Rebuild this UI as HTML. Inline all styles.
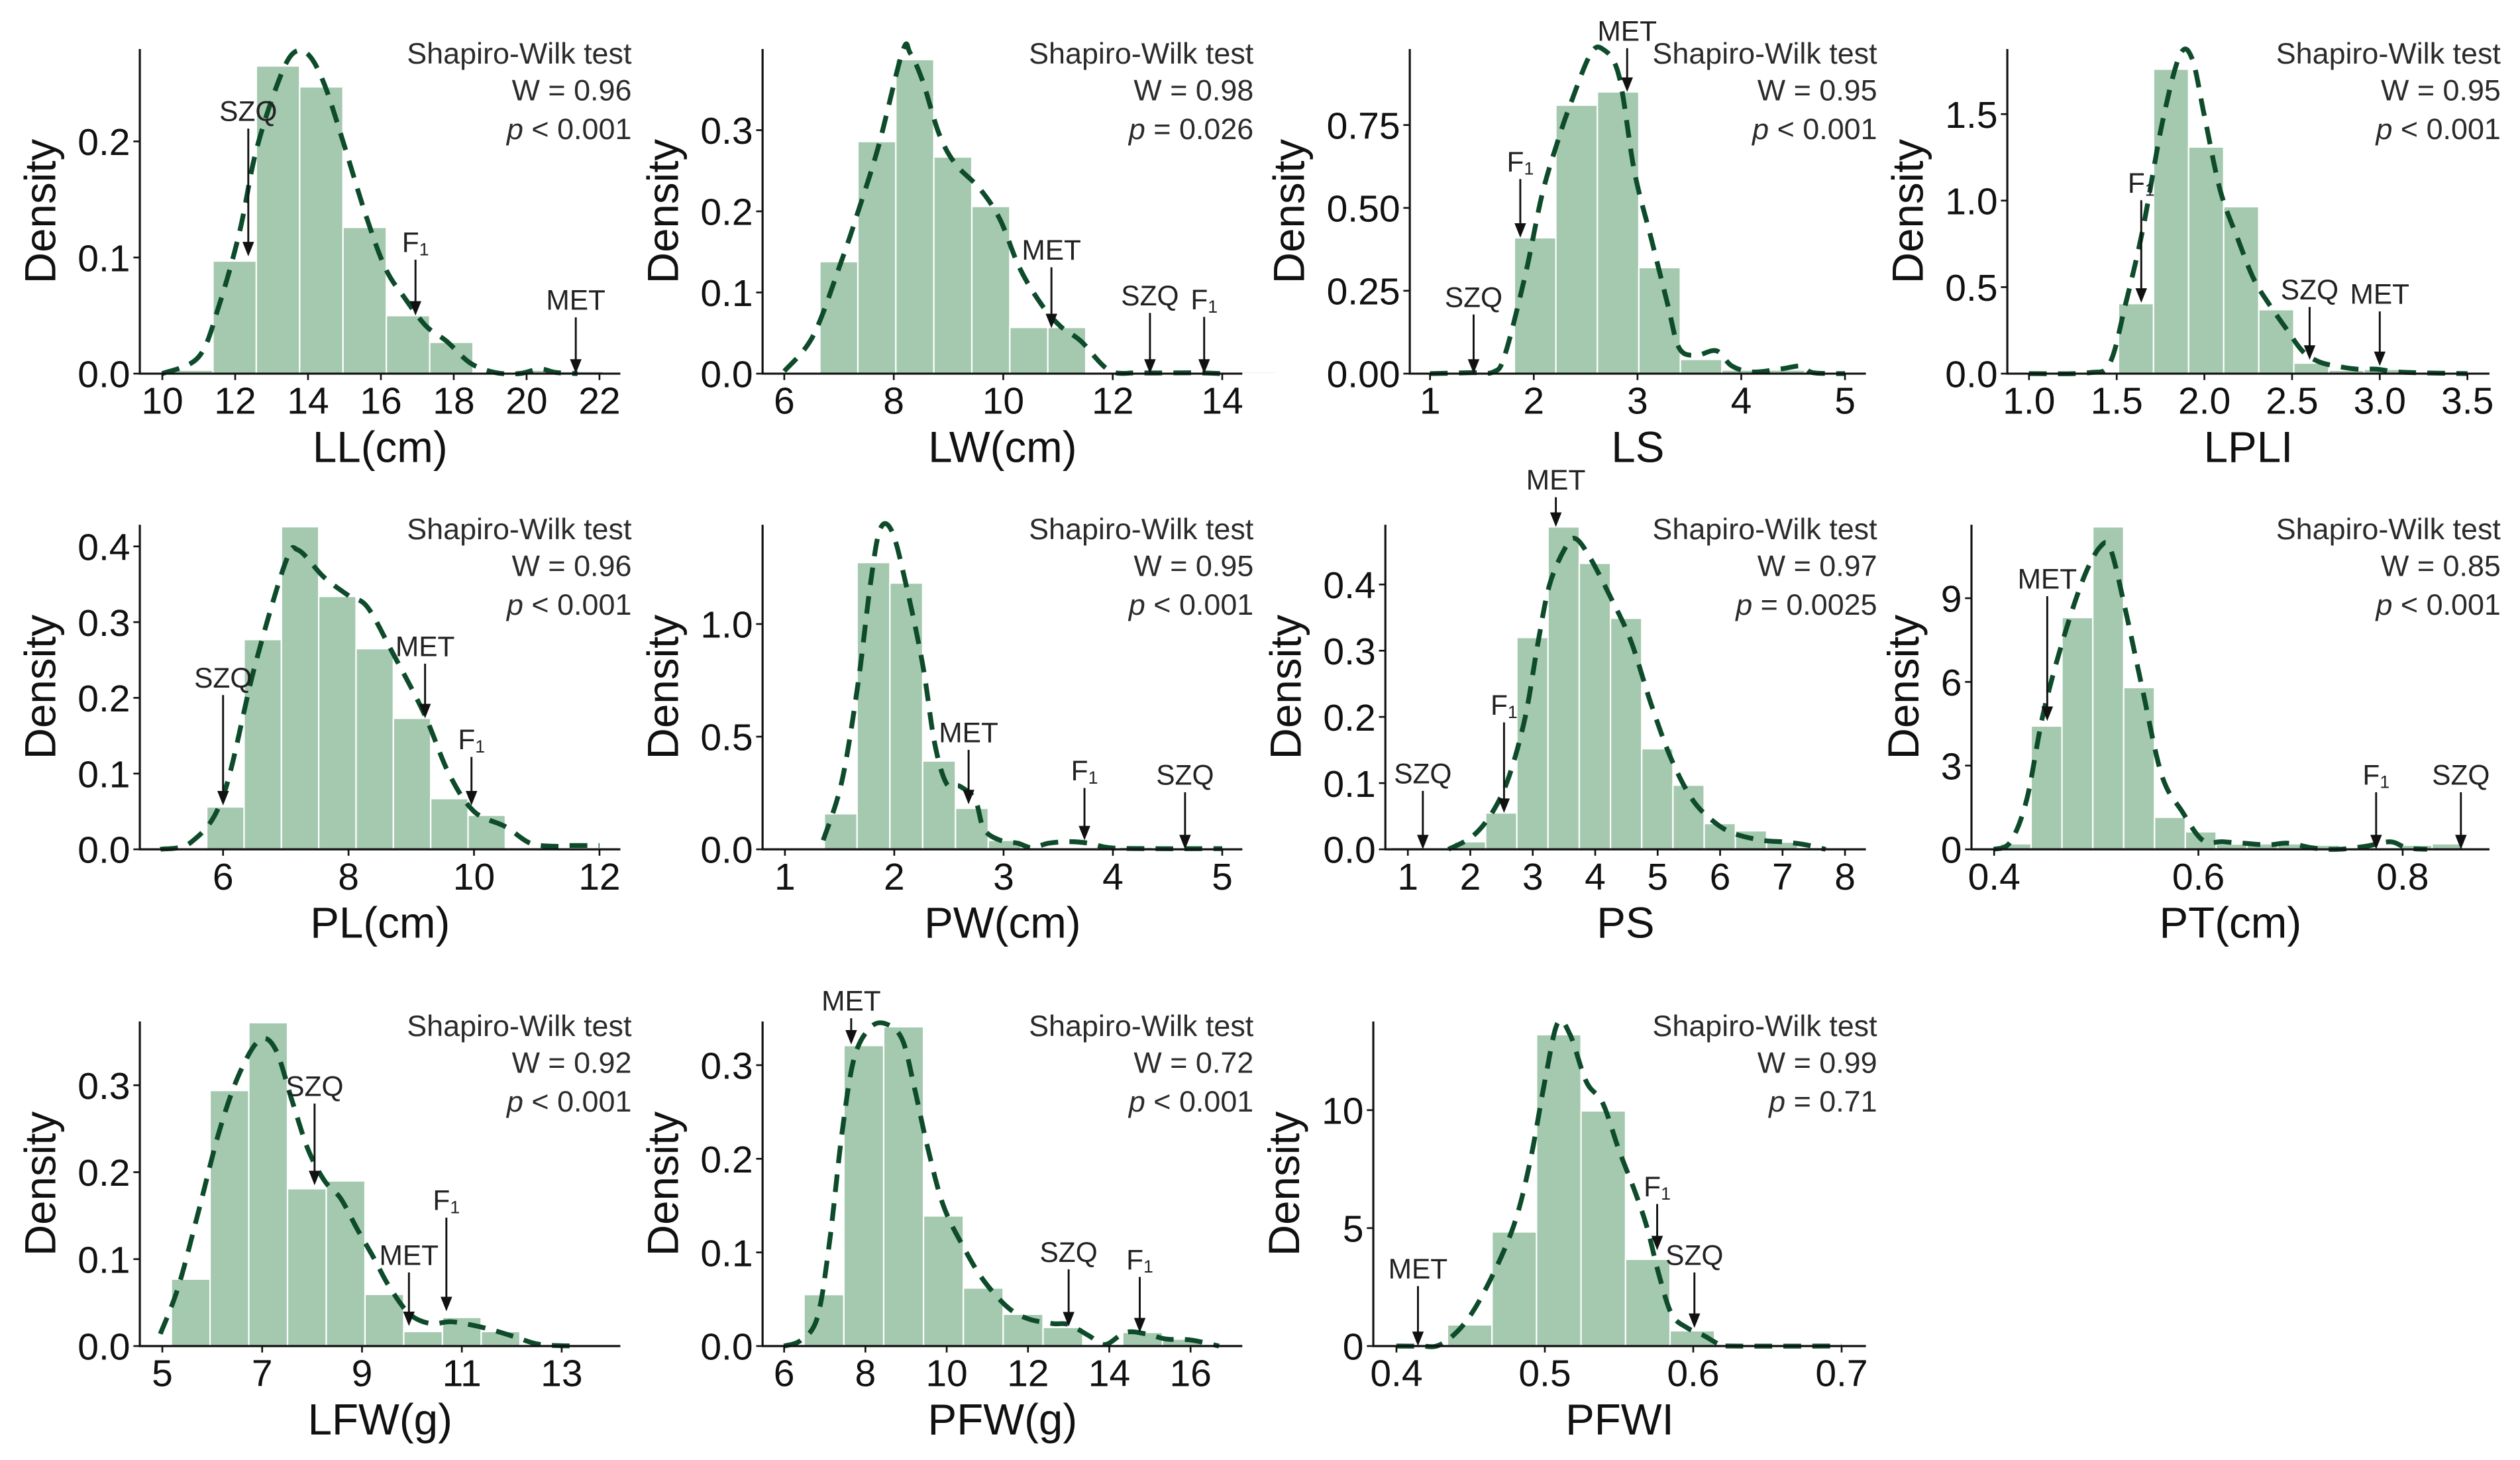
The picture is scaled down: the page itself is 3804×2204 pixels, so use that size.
<!DOCTYPE html>
<html><head><meta charset="utf-8"><title>Density histograms</title>
<style>
html,body{margin:0;padding:0;background:#fff;}
svg{display:block;font-family:"Liberation Sans",Arial,sans-serif;}
</style></head>
<body>
<svg id="fig" xmlns="http://www.w3.org/2000/svg" width="3804" height="2204" viewBox="0 0 1568 908.5" preserveAspectRatio="none">
<rect x="0" y="0" width="1568" height="908.5" fill="#fff"/>
</svg>
<script>
// ===== DATA =====
// LL
const LL_binStart=10.2; const LL_binWidth=1.19;
const LL_heights=[0.003,0.097,0.265,0.247,0.126,0.05,0.027,0,0.003,0.002];
const LL_curveX=[10,11.0,11.56,12.12,12.56,13.12,13.56,14.0,14.45,15.0,15.57,16.12,16.68,17.24,17.8,18.46,19.13,19.8,20.36,20.8,21.4];
const LL_curveY=[0,0.0145,0.059,0.122,0.19,0.246,0.275,0.275,0.249,0.196,0.138,0.091,0.064,0.041,0.028,0.009,0.001,0,0.004,0.001,0];
const LL_xTicks=[10,12,14,16,18,20,22];
const LL_yTicks=[0,0.1,0.2]; const LL_yLabels=["0.0","0.1","0.2"];
const LL_markNames=["SZQ","F1","MET"]; const LL_markX=[12.36,16.95,21.35]; const LL_markTip=[0.101,0.05,0];
const LL_stats=["W = 0.96","<","0.001"];
// LW
const LW_binStart=6.65; const LW_binWidth=0.694;
const LW_heights=[0.138,0.286,0.387,0.267,0.206,0.057,0.057,0,0,0.002,0,0.002];
const LW_curveX=[6.0,6.53,7.05,7.35,7.72,8.16,8.3,8.53,8.83,9.13,9.57,9.94,10.3,10.7,11.05,11.42,11.94,12.5,13.5,14];
const LW_curveY=[0.003,0.047,0.14,0.2,0.28,0.397,0.395,0.36,0.295,0.258,0.228,0.19,0.13,0.085,0.058,0.04,0.004,0.001,0.001,0];
const LW_xTicks=[6,8,10,12,14];
const LW_yTicks=[0,0.1,0.2,0.3]; const LW_yLabels=["0.0","0.1","0.2","0.3"];
const LW_markNames=["MET","SZQ","F1"]; const LW_markX=[10.88,12.68,13.67]; const LW_markTip=[0.056,0,0];
const LW_stats=["W = 0.98","=","0.026"];
// LS
const LS_binStart=1.013; const LS_binWidth=0.4;
const LS_heights=[0.003,0.004,0.41,0.81,0.85,0.32,0.043,0.011,0.011,0.003];
const LS_curveX=[1,1.41,1.61,1.72,1.92,2.08,2.23,2.35,2.54,2.66,2.82,2.97,3.13,3.29,3.4,3.56,3.76,3.91,4.11,4.38,4.58,4.69,5];
const LS_curveY=[0,0.003,0.005,0.055,0.3,0.54,0.70,0.81,0.96,0.98,0.90,0.61,0.41,0.21,0.078,0.055,0.069,0.023,0.005,0.014,0.023,0.003,0];
const LS_xTicks=[1,2,3,4,5];
const LS_yTicks=[0,0.25,0.5,0.75]; const LS_yLabels=["0.00","0.25","0.50","0.75"];
const LS_markNames=["MET","F1","SZQ"]; const LS_markX=[2.9,1.87,1.42]; const LS_markTip=[0.85,0.41,0];
const LS_stats=["W = 0.95","<","0.001"];
// LPLI
const LPLI_binStart=0.91; const LPLI_binWidth=0.2;
const LPLI_heights=[0.01,0.005,0,0.405,1.76,1.31,0.965,0.37,0.061,0.02,0.025,0.003,0.005];
const LPLI_curveX=[1.0,1.34,1.46,1.55,1.65,1.76,1.86,1.93,2.0,2.09,2.19,2.28,2.37,2.47,2.56,2.65,2.75,2.87,2.98,3.08,3.22,3.5];
const LPLI_curveY=[0,0.005,0.06,0.40,0.84,1.45,1.84,1.82,1.49,1.06,0.78,0.55,0.40,0.255,0.13,0.07,0.044,0.026,0.026,0.012,0.005,0];
const LPLI_xTicks=[1.0,1.5,2.0,2.5,3.0,3.5];
const LPLI_yTicks=[0,0.5,1.0,1.5]; const LPLI_yLabels=["0.0","0.5","1.0","1.5"];
const LPLI_markNames=["F1","SZQ","MET"]; const LPLI_markX=[1.64,2.6,3.0]; const LPLI_markTip=[0.41,0.08,0.044];
const LPLI_stats=["W = 0.95","<","0.001"];
// PL
const PL_binStart=5.74; const PL_binWidth=0.595;
const PL_heights=[0.056,0.277,0.426,0.334,0.265,0.173,0.067,0.045];
const PL_curveX=[5.0,5.5,6.0,6.5,7.0,7.2,7.6,8.0,8.3,8.7,9.2,9.6,10.0,10.5,10.9,11.3,11.5,12.0];
const PL_curveY=[0,0.01,0.07,0.24,0.38,0.395,0.36,0.335,0.32,0.26,0.18,0.1,0.05,0.03,0.008,0.004,0.005,0.005];
const PL_xTicks=[6,8,10,12];
const PL_yTicks=[0,0.1,0.2,0.3,0.4]; const PL_yLabels=["0.0","0.1","0.2","0.3","0.4"];
const PL_markNames=["SZQ","MET","F1"]; const PL_markX=[6.0,9.22,9.96]; const PL_markTip=[0.058,0.173,0.058];
const PL_stats=["W = 0.96","<","0.001"];
// PW
const PW_binStart=1.06; const PW_binWidth=0.3;
const PW_heights=[0.005,0.158,1.273,1.182,0.392,0.182,0.04,0.005,0.005,0.008,0.01,0.004,0.003,0.002,0.003];
const PW_curveX=[1.35,1.52,1.67,1.78,1.87,1.98,2.11,2.26,2.37,2.48,2.6,2.74,2.82,2.97,3.13,3.26,3.41,3.6,3.78,3.97,4.34,5.0];
const PW_curveY=[0.04,0.3,0.74,1.17,1.42,1.41,1.17,0.82,0.47,0.29,0.28,0.22,0.09,0.04,0.027,0.007,0.027,0.034,0.027,0.007,0.003,0.003];
const PW_xTicks=[1,2,3,4,5];
const PW_yTicks=[0,0.5,1.0]; const PW_yLabels=["0.0","0.5","1.0"];
const PW_markNames=["MET","F1","SZQ"]; const PW_markX=[2.68,3.74,4.66]; const PW_markTip=[0.2,0.04,0];
const PW_stats=["W = 0.95","<","0.001"];
// PS
const PS_binStart=0.745; const PS_binWidth=0.5;
const PS_heights=[0.003,0,0.0115,0.055,0.32,0.487,0.432,0.349,0.152,0.097,0.039,0.028,0.011,0.003];
const PS_curveX=[1.65,2.04,2.36,2.62,2.88,3.08,3.27,3.53,3.69,3.92,4.25,4.57,4.9,5.22,5.55,5.87,6.19,6.65,7.04,7.36,7.69];
const PS_curveY=[0,0.02,0.057,0.11,0.2,0.31,0.4,0.457,0.469,0.44,0.38,0.315,0.218,0.136,0.076,0.044,0.025,0.014,0.011,0.007,0];
const PS_xTicks=[1,2,3,4,5,6,7,8];
const PS_yTicks=[0,0.1,0.2,0.3,0.4]; const PS_yLabels=["0.0","0.1","0.2","0.3","0.4"];
const PS_markNames=["MET","F1","SZQ"]; const PS_markX=[3.37,2.54,1.24]; const PS_markTip=[0.487,0.055,0];
const PS_stats=["W = 0.97","=","0.0025"];
// PT
const PT_binStart=0.406; const PT_binWidth=0.0302;
const PT_heights=[0.2,4.42,8.31,11.56,5.8,1.15,0.63,0.19,0.2,0.2,0.15,0.05,0.05,0.15,0.2,0.05,0.05];
const PT_curveX=[0.4,0.416,0.432,0.448,0.468,0.488,0.504,0.514,0.528,0.544,0.564,0.584,0.604,0.624,0.644,0.668,0.688,0.712,0.736,0.764,0.788,0.804,0.824];
const PT_curveY=[0,0.27,1.8,4.85,7.58,9.76,10.85,10.75,8.67,5.95,2.67,1.36,0.33,0.27,0.22,0.16,0.22,0.05,0,0.11,0.27,0.05,0];
const PT_xTicks=[0.4,0.6,0.8];
const PT_yTicks=[0,3,6,9]; const PT_yLabels=["0","3","6","9"];
const PT_markNames=["MET","F1","SZQ"]; const PT_markX=[0.452,0.774,0.857]; const PT_markTip=[4.6,0,0];
const PT_stats=["W = 0.85","<","0.001"];
// LFW
const LFW_binStart=5.18; const LFW_binWidth=0.776;
const LFW_heights=[0.077,0.294,0.372,0.181,0.19,0.0595,0.0168,0.033,0.0168,0,0.001];
const LFW_curveX=[4.96,5.32,5.73,6.14,6.54,6.95,7.27,7.6,7.92,8.25,8.57,8.9,9.22,9.55,9.95,10.36,10.77,11.17,11.58,12.07,12.55,13.3];
const LFW_curveY=[0.014,0.068,0.156,0.247,0.313,0.352,0.341,0.282,0.226,0.19,0.17,0.135,0.103,0.068,0.037,0.026,0.028,0.0245,0.019,0.0105,0.002,0];
const LFW_xTicks=[5,7,9,11,13];
const LFW_yTicks=[0,0.1,0.2,0.3]; const LFW_yLabels=["0.0","0.1","0.2","0.3"];
const LFW_markNames=["SZQ","MET","F1"]; const LFW_markX=[8.05,9.94,10.69]; const LFW_markTip=[0.185,0.023,0.04];
const LFW_stats=["W = 0.92","<","0.001"];
// PFW
const PFW_binStart=6.49; const PFW_binWidth=0.98;
const PFW_heights=[0.055,0.321,0.341,0.139,0.062,0.034,0.02,0,0.0146,0.0075,0.002];
const PFW_curveX=[6,6.42,6.82,7.12,7.42,7.72,8.12,8.51,8.91,9.21,9.51,9.91,10.41,10.91,11.51,12.01,12.61,13.0,13.5,13.9,14.4,14.9,15.4,16,16.7];
const PFW_curveY=[0,0.0065,0.031,0.112,0.226,0.307,0.34,0.344,0.327,0.275,0.216,0.151,0.106,0.07,0.041,0.029,0.024,0.023,0.011,0.0016,0.0146,0.013,0.0075,0.0065,0];
const PFW_xTicks=[6,8,10,12,14,16];
const PFW_yTicks=[0,0.1,0.2,0.3]; const PFW_yLabels=["0.0","0.1","0.2","0.3"];
const PFW_markNames=["MET","SZQ","F1"]; const PFW_markX=[7.65,13.0,14.75]; const PFW_markTip=[0.322,0.021,0.0146];
const PFW_stats=["W = 0.72","<","0.001"];
// PFWI
const PFWI_binStart=0.4044; const PFWI_binWidth=0.03;
const PFWI_heights=[0.03,0.9,4.84,13.2,9.97,3.68,0.65];
const PFWI_curveX=[0.4,0.416,0.4295,0.446,0.462,0.479,0.49,0.5005,0.5087,0.517,0.528,0.539,0.55,0.561,0.569,0.577,0.5855,0.596,0.607,0.618,0.626,0.7];
const PFWI_curveY=[0,0,0.06,0.97,2.65,5.1,7.8,11.4,13.7,13.2,11.2,10.3,8.3,6.5,5.0,3.0,1.35,0.77,0.45,0.06,0,0];
const PFWI_xTicks=[0.4,0.5,0.6,0.7];
const PFWI_yTicks=[0,5,10]; const PFWI_yLabels=["0","5","10"];
const PFWI_markNames=["MET","F1","SZQ"]; const PFWI_markX=[0.4145,0.5757,0.6008]; const PFWI_markTip=[0,4.06,0.77];
const PFWI_stats=["W = 0.99","=","0.71"];

// ===== LAYOUT (pixel geometry, not data) =====
const rowsY=[232.5,528.5,837.6];
const panels=[
 {id:"LL",title:"LL(cm)",row:0,ax:87,xr:386,xv:[10,22],xp:[101,373],topV:0.2,topOff:-144.5,lab:[-163.5,-81.9,-46],
  bs:LL_binStart,bw:LL_binWidth,h:LL_heights,cx:LL_curveX,cy:LL_curveY,xt:LL_xTicks,yt:LL_yTicks,yl:LL_yLabels,mn:LL_markNames,mx:LL_markX,mt:LL_markTip,st:LL_stats},
 {id:"LW",title:"LW(cm)",row:0,ax:474.5,xr:773,xv:[6,14],xp:[488,760.5],topV:0.3,topOff:-151.5,lab:[-77.2,-48.8,-46.3],
  bs:LW_binStart,bw:LW_binWidth,h:LW_heights,cx:LW_curveX,cy:LW_curveY,xt:LW_xTicks,yt:LW_yTicks,yl:LW_yLabels,mn:LW_markNames,mx:LW_markX,mt:LW_markTip,st:LW_stats},
 {id:"LS",title:"LS",row:0,ax:877.2,xr:1161,xv:[1,5],xp:[889.8,1148],topV:0.75,topOff:-154.7,lab:[-213.5,-132.1,-47.8],
  bs:LS_binStart,bw:LS_binWidth,h:LS_heights,cx:LS_curveX,cy:LS_curveY,xt:LS_xTicks,yt:LS_yTicks,yl:LS_yLabels,mn:LS_markNames,mx:LS_markX,mt:LS_markTip,st:LS_stats},
 {id:"LPLI",title:"LPLI",row:0,ax:1249,xr:1549,xv:[1,3.5],xp:[1262.5,1535.3],topV:1.5,topOff:-161.5,lab:[-118.9,-52.5,-49.7],
  bs:LPLI_binStart,bw:LPLI_binWidth,h:LPLI_heights,cx:LPLI_curveX,cy:LPLI_curveY,xt:LPLI_xTicks,yt:LPLI_yTicks,yl:LPLI_yLabels,mn:LPLI_markNames,mx:LPLI_markX,mt:LPLI_markTip,st:LPLI_stats,dec:1},
 {id:"PL",title:"PL(cm)",row:1,ax:87,xr:386,xv:[6,12],xp:[138.8,373],topV:0.4,topOff:-188.5,lab:[-107,-126.5,-68.5],
  bs:PL_binStart,bw:PL_binWidth,h:PL_heights,cx:PL_curveX,cy:PL_curveY,xt:PL_xTicks,yt:PL_yTicks,yl:PL_yLabels,mn:PL_markNames,mx:PL_markX,mt:PL_markTip,st:PL_stats},
 {id:"PW",title:"PW(cm)",row:1,ax:474.5,xr:773,xv:[1,5],xp:[488.4,760.5],topV:1.0,topOff:-140.2,lab:[-72.9,-49.2,-46.5],
  bs:PW_binStart,bw:PW_binWidth,h:PW_heights,cx:PW_curveX,cy:PW_curveY,xt:PW_xTicks,yt:PW_yTicks,yl:PW_yLabels,mn:PW_markNames,mx:PW_markX,mt:PW_markTip,st:PW_stats},
 {id:"PS",title:"PS",row:1,ax:862,xr:1161,xv:[1,8],xp:[876,1148],topV:0.4,topOff:-164.8,lab:[-230.1,-90,-47.4],
  bs:PS_binStart,bw:PS_binWidth,h:PS_heights,cx:PS_curveX,cy:PS_curveY,xt:PS_xTicks,yt:PS_yTicks,yl:PS_yLabels,mn:PS_markNames,mx:PS_markX,mt:PS_markTip,st:PS_stats},
 {id:"PT",title:"PT(cm)",row:1,ax:1226.7,xr:1549,xv:[0.4,0.8],xp:[1240.8,1495],topV:9,topOff:-156.25,lab:[-168.5,-46.5,-46.5],
  bs:PT_binStart,bw:PT_binWidth,h:PT_heights,cx:PT_curveX,cy:PT_curveY,xt:PT_xTicks,yt:PT_yTicks,yl:PT_yLabels,mn:PT_markNames,mx:PT_markX,mt:PT_markTip,st:PT_stats,dec:1},
 {id:"LFW",title:"LFW(g)",row:2,ax:87,xr:386,xv:[5,13],xp:[101,349.5],topV:0.3,topOff:-162.3,lab:[-161.9,-56.8,-90.9],
  bs:LFW_binStart,bw:LFW_binWidth,h:LFW_heights,cx:LFW_curveX,cy:LFW_curveY,xt:LFW_xTicks,yt:LFW_yTicks,yl:LFW_yLabels,mn:LFW_markNames,mx:LFW_markX,mt:LFW_markTip,st:LFW_stats},
 {id:"PFW",title:"PFW(g)",row:2,ax:474.5,xr:773,xv:[6,16],xp:[487.9,740.8],topV:0.3,topOff:-174.8,lab:[-215,-58.7,-54],
  bs:PFW_binStart,bw:PFW_binWidth,h:PFW_heights,cx:PFW_curveX,cy:PFW_curveY,xt:PFW_xTicks,yt:PFW_yTicks,yl:PFW_yLabels,mn:PFW_markNames,mx:PFW_markX,mt:PFW_markTip,st:PFW_stats},
 {id:"PFWI",title:"PFWI",row:2,ax:854.5,xr:1161,xv:[0.4,0.7],xp:[868.9,1145.9],topV:10,topOff:-146.8,lab:[-48.3,-99.4,-56.8],
  bs:PFWI_binStart,bw:PFWI_binWidth,h:PFWI_heights,cx:PFWI_curveX,cy:PFWI_curveY,xt:PFWI_xTicks,yt:PFWI_yTicks,yl:PFWI_yLabels,mn:PFWI_markNames,mx:PFWI_markX,mt:PFWI_markTip,st:PFWI_stats,dec:1}
];

const NS="http://www.w3.org/2000/svg";
const svg=document.getElementById("fig");
function mk(tag,attrs,parent){const e=document.createElementNS(NS,tag);for(const k in attrs)e.setAttribute(k,attrs[k]);parent.appendChild(e);return e;}
function fmtX(v,P){return P.dec?v.toFixed(1):String(v);}
function labelWidth(s,fs){let w=0;for(const ch of s)w+=(ch==="."?0.278:0.556)*fs;return w;}

function smoothPath(pts){
  let d="M"+pts[0][0].toFixed(2)+","+pts[0][1].toFixed(2);
  for(let i=0;i<pts.length-1;i++){
    const p0=pts[Math.max(0,i-1)],p1=pts[i],p2=pts[i+1],p3=pts[Math.min(pts.length-1,i+2)];
    const c1x=p1[0]+(p2[0]-p0[0])/6,c1y=p1[1]+(p2[1]-p0[1])/6;
    const c2x=p2[0]-(p3[0]-p1[0])/6,c2y=p2[1]-(p3[1]-p1[1])/6;
    d+=" C"+c1x.toFixed(2)+","+c1y.toFixed(2)+" "+c2x.toFixed(2)+","+c2y.toFixed(2)+" "+p2[0].toFixed(2)+","+p2[1].toFixed(2);
  }
  return d;
}

panels.forEach(P=>{
  const yb=rowsY[P.row];
  const sx=v=>P.xp[0]+(v-P.xv[0])*(P.xp[1]-P.xp[0])/(P.xv[1]-P.xv[0]);
  const sy=v=>yb+v/P.topV*P.topOff;
  const g=mk("g",{},svg);
  
  

  const bars=mk("g",{},g);
  
  
  P.h.forEach((h,i)=>{
    if(h<=0)return;
    const x0=sx(P.bs+i*P.bw),x1=sx(P.bs+(i+1)*P.bw);
    const y=sy(h);
    const r=mk("rect",{x:x0.toFixed(2),y:y.toFixed(2),width:(x1-x0).toFixed(2),height:Math.max(0.3,yb-y).toFixed(2),fill:"#a4c9ae",stroke:"#ffffff","stroke-width":"0.9"},bars);
    
    
  });

  const pts=P.cx.map((x,i)=>[sx(x),sy(P.cy[i])]);
  const c=mk("path",{d:smoothPath(pts),fill:"none",stroke:"#0d4b2b","stroke-width":"3","stroke-dasharray":"11 7","stroke-linecap":"butt"},g);
  
  

  const yTop=yb-202;
  const ya=mk("line",{x1:P.ax,y1:yTop,x2:P.ax,y2:yb,stroke:"#111","stroke-width":"1.3"},g);
  
  
  const xa=mk("line",{x1:P.ax-0.6,y1:yb,x2:P.xr,y2:yb,stroke:"#111","stroke-width":"1.3"},g);
  
  

  P.xt.forEach(v=>{
    const x=sx(v);
    mk("line",{x1:x,y1:yb,x2:x,y2:yb+4,stroke:"#111","stroke-width":"1.1"},g);
    const t=mk("text",{x:x,y:yb+25,"font-size":"23.5","text-anchor":"middle",fill:"#111"},g);
    t.textContent=fmtX(v,P);
    
    
  });
  let maxW=0;
  P.yt.forEach((v,i)=>{
    const y=sy(v);
    mk("line",{x1:P.ax-4,y1:y,x2:P.ax,y2:y,stroke:"#111","stroke-width":"1.1"},g);
    const t=mk("text",{x:P.ax-6,y:y+8.5,"font-size":"23.5","text-anchor":"end",fill:"#111"},g);
    t.textContent=P.yl[i];
    
    
    maxW=Math.max(maxW,labelWidth(P.yl[i],23.5));
  });

  const xt=mk("text",{x:((P.ax+P.xr)/2).toFixed(1),y:yb+55,"font-size":"27","text-anchor":"middle",fill:"#111"},g);
  xt.textContent=P.title;
  
  
  const ycx=P.ax-6-maxW-14, ycy=yb-101;
  const yt=mk("text",{x:ycx,y:ycy,"font-size":"27","text-anchor":"middle",fill:"#111",transform:"rotate(-90 "+ycx+" "+ycy+")"},g);
  yt.textContent="Density";
  
  

  const sr=P.xr+7;
  const s1=mk("text",{x:sr,y:yb-193,"font-size":"18.5","text-anchor":"end",fill:"#2b2b2b"},g);
  s1.textContent="Shapiro-Wilk test";
  
  
  const s2=mk("text",{x:sr,y:yb-170,"font-size":"18.5","text-anchor":"end",fill:"#2b2b2b"},g);
  s2.textContent=P.st[0];
  
  
  const s3=mk("text",{x:sr,y:yb-146,"font-size":"18.5","text-anchor":"end",fill:"#2b2b2b"},g);
  
  
  const ti=mk("tspan",{"font-style":"italic"},s3); ti.textContent="p";
  const tr=mk("tspan",{},s3); tr.textContent=" "+P.st[1]+" "+P.st[2];

  P.mn.forEach((name,i)=>{
    const x=sx(P.mx[i]); const tip=sy(P.mt[i]); const ly=yb+P.lab[i];
    const ag=mk("g",{},g);
    
    
    const t=mk("text",{x:x,y:ly+6.3,"font-size":"17.5","text-anchor":"middle",fill:"#222"},ag);
    if(name==="F1"){
      const a=mk("tspan",{},t); a.textContent="F";
      const b=mk("tspan",{"font-size":"11",dy:"2"},t); b.textContent="1";
    } else t.textContent=name;
    mk("line",{x1:x,y1:ly+11,x2:x,y2:tip-6,stroke:"#111","stroke-width":"1.2"},ag);
    mk("path",{d:"M"+(x-3.6)+","+(tip-9)+" L"+(x+3.6)+","+(tip-9)+" L"+x+","+tip+" Z",fill:"#111"},ag);
  });
});
</script>
</body></html>
